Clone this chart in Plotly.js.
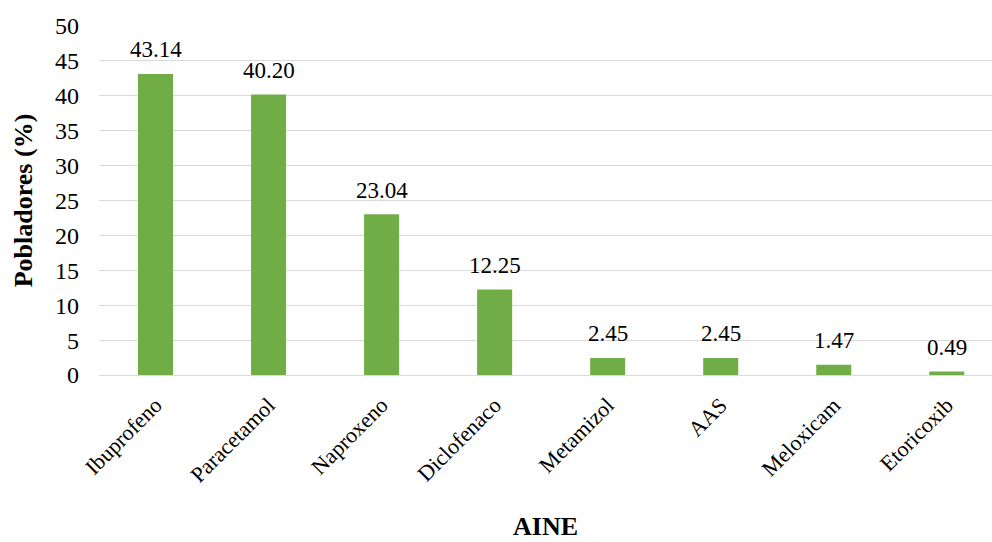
<!DOCTYPE html>
<html>
<head>
<meta charset="utf-8">
<script src="https://cdn.plot.ly/plotly-3.0.1.min.js"></script>
<style>html,body{margin:0;padding:0;background:#fff;}#chart{width:992px;height:542px;}</style>
</head>
<body>
<div id="chart"></div>
<script>
const categories = ["Ibuprofeno", "Paracetamol", "Naproxeno", "Diclofenaco", "Metamizol", "AAS", "Meloxicam", "Etoricoxib"];
const values = [43.14, 40.20, 23.04, 12.25, 2.45, 2.45, 1.47, 0.49];
const yTicks = [0, 5, 10, 15, 20, 25, 30, 35, 40, 45, 50];

const FONT = "Liberation Serif, Times New Roman, serif";

const trace = {
  type: "bar",
  x: categories,
  y: values,
  marker: {color: "#70AD47"},
  hoverinfo: "x+y"
};

const valueLabels = categories.map((c, i) => ({
  x: c,
  y: values[i],
  xref: "x",
  yref: "y",
  text: values[i].toFixed(2),
  showarrow: false,
  yanchor: "middle",
  yshift: 24,
  font: {family: FONT, size: 23, color: "#000"}
}));

const layout = {
  width: 992,
  height: 542,
  margin: {l: 99, r: 0, t: 26, b: 167},
  paper_bgcolor: "#fff",
  plot_bgcolor: "#fff",
  bargap: 0.69,
  showlegend: false,
  font: {family: FONT, size: 22, color: "#000"},
  annotations: valueLabels,
  xaxis: {
    type: "category",
    range: [-0.5, 7.4],
    tickangle: -45,
    showgrid: false,
    showline: false,
    ticks: "",
    ticklabelstandoff: 12,
    tickfont: {family: FONT, size: 22, color: "#000"},
    title: {text: "<b>AINE</b>", font: {family: FONT, size: 26, color: "#000"}, standoff: 30},
    automargin: false
  },
  yaxis: {
    range: [0, 50],
    tickvals: yTicks,
    ticktext: yTicks.map(String),
    showgrid: true,
    gridcolor: "#D9D9D9",
    gridwidth: 1,
    zeroline: true,
    zerolinecolor: "#D9D9D9",
    zerolinewidth: 1,
    showline: false,
    ticks: "",
    ticklabelstandoff: 19,
    tickfont: {family: FONT, size: 24, color: "#000"},
    title: {text: "<b>Pobladores (%)</b>", font: {family: FONT, size: 26, color: "#000"}, standoff: 14},
    automargin: false
  }
};

Plotly.newPlot("chart", [trace], layout, {displayModeBar: false, staticPlot: true});
</script>
</body>
</html>
